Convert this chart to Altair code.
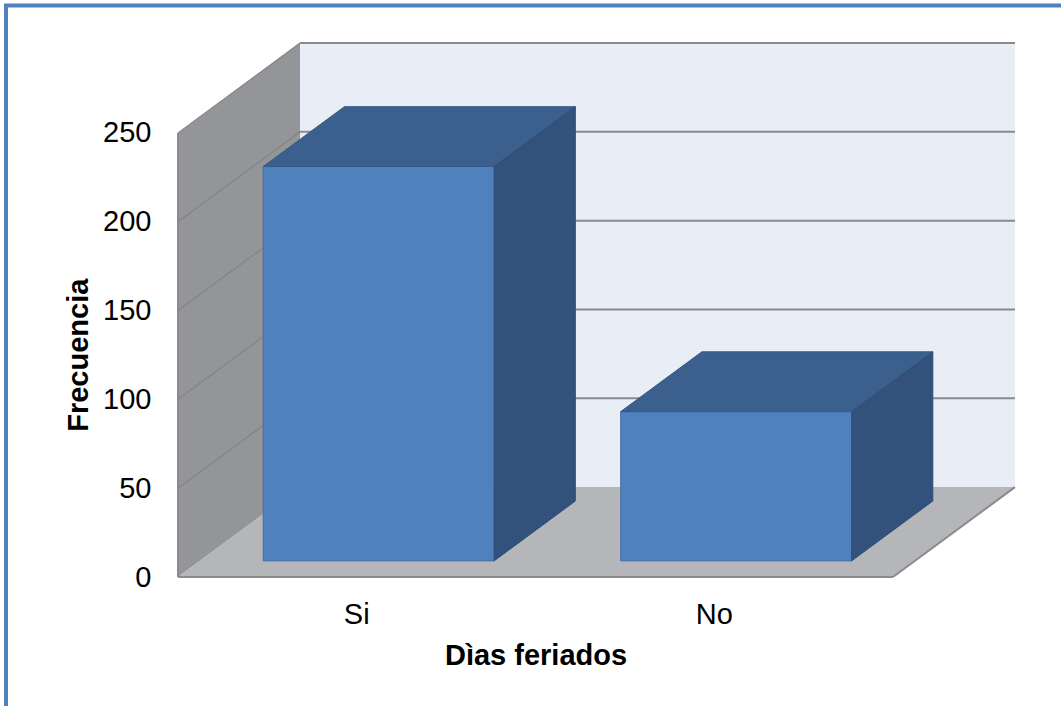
import altair as alt
import pandas as pd

# Data
CATEGORIES = ["Si", "No"]
FRECUENCIA = [222, 84]
Y_TICKS = [0, 50, 100, 150, 200, 250]

# 3-D box geometry (x in category widths, y in value units)
N = len(CATEGORIES)
Y_MAX = 250
DEPTH_X = 0.3413      # oblique shift of the back plane, in category widths
DEPTH_Y = 50.6        # oblique shift of the back plane, in value units
BAR_WIDTH = 0.646
BAR_Z0, BAR_Z1 = 0.18, 0.845   # bar front / back depth (fraction of box depth)

CAT_PX = 357.5
PX_PER_UNIT = 1.778
W = round((N + DEPTH_X) * CAT_PX)
H = round((Y_MAX + DEPTH_Y) * PX_PER_UNIT)
PAD_LEFT, ZERO_Y = 178, 577
PAD_TOP = ZERO_Y - H
PAGE_W, PAGE_H = 1061, 706

FONT = "Liberation Sans"
GRID = "#8b8b8b"

xs = alt.Scale(domain=[0, N + DEPTH_X], nice=False, zero=False)
ys = alt.Scale(domain=[0, Y_MAX + DEPTH_Y], nice=False, zero=False)

# one axis definition per channel, shared by every layer
AXIS_X = alt.Axis(
    labels=False, ticks=False, domain=False, grid=False,
    title="Dìas feriados", titleFont=FONT, titleFontSize=29,
    titleFontWeight="bold", titleColor="black",
    titleX=CAT_PX * N / 2, titleY=87, titleAlign="center",
    titleBaseline="alphabetic",
)
AXIS_Y = alt.Axis(
    values=Y_TICKS, ticks=False, domain=False, grid=False,
    labelFont=FONT, labelFontSize=29, labelColor="black", labelPadding=27,
    title="Frecuencia", titleFont=FONT, titleFontSize=29,
    titleFontWeight="bold", titleColor="black",
    titleX=78 - PAD_LEFT, titleY=H - (Y_MAX / 2) * PX_PER_UNIT,
    titleAngle=-90, titleAlign="center", titleBaseline="middle",
)


def X(f, **kw):
    return alt.X(f, type="quantitative", scale=xs, axis=AXIS_X, **kw)


def Y(f, **kw):
    return alt.Y(f, type="quantitative", scale=ys, axis=AXIS_Y, **kw)


# walls and floor
back_wall = pd.DataFrame({"x": [DEPTH_X], "x2": [N + DEPTH_X],
                          "y": [DEPTH_Y], "y2": [Y_MAX + DEPTH_Y]})
left_wall = pd.DataFrame({"x": [0, DEPTH_X], "y": [0, DEPTH_Y],
                          "y2": [Y_MAX, Y_MAX + DEPTH_Y]})
floor = pd.DataFrame({"y": [0, DEPTH_Y], "x": [0, DEPTH_X],
                      "x2": [N, N + DEPTH_X]})

grid_left_rows, grid_back_rows = [], []
for v in Y_TICKS[1:]:
    grid_left_rows.append({"x": 0, "y": v, "x2": DEPTH_X, "y2": v + DEPTH_Y})
    grid_back_rows.append({"x": DEPTH_X, "y": v + DEPTH_Y,
                           "x2": N + DEPTH_X, "y2": v + DEPTH_Y})

edges = pd.DataFrame([
    {"x": 0, "y": 0, "x2": N, "y2": 0},
    {"x": N, "y": 0, "x2": N + DEPTH_X, "y2": DEPTH_Y},
    {"x": 0, "y": 0, "x2": 0, "y2": Y_MAX},
])

# bar faces
fronts, tops, sides = [], [], []
for i, (cat, val) in enumerate(zip(CATEGORIES, FRECUENCIA)):
    x0 = i + (1 - BAR_WIDTH) / 2
    x1 = x0 + BAR_WIDTH
    fx, bx = BAR_Z0 * DEPTH_X, BAR_Z1 * DEPTH_X
    fy, by = BAR_Z0 * DEPTH_Y, BAR_Z1 * DEPTH_Y
    fronts.append({"bar": cat, "x": x0 + fx, "x2": x1 + fx, "y": fy, "y2": val + fy})
    tops.append({"bar": cat, "y": val + fy, "x": x0 + fx, "x2": x1 + fx})
    tops.append({"bar": cat, "y": val + by, "x": x0 + bx, "x2": x1 + bx})
    sides.append({"bar": cat, "x": x1 + fx, "y": fy, "y2": val + fy})
    sides.append({"bar": cat, "x": x1 + bx, "y": by, "y2": val + by})

labels = pd.DataFrame({"x": [i + 0.5 for i in range(N)], "y": [0] * N,
                       "label": CATEGORIES})

# outer blue frame (top and left edges)
frame_top = alt.Chart(pd.DataFrame({"a": [0]})).mark_rule(
    color="#4f81bd", strokeWidth=4
).encode(x=alt.value(4 - PAD_LEFT), x2=alt.value(PAGE_W - PAD_LEFT),
         y=alt.value(5.5 - PAD_TOP))
frame_left = alt.Chart(pd.DataFrame({"a": [0]})).mark_rule(
    color="#4f81bd", strokeWidth=4
).encode(x=alt.value(6 - PAD_LEFT), y=alt.value(4 - PAD_TOP),
         y2=alt.value(PAGE_H - PAD_TOP))

back = alt.Chart(back_wall).mark_rect(color="#e9edf6").encode(
    x=X("x"), x2="x2:Q", y=Y("y"), y2="y2:Q"
)

left = alt.Chart(left_wall).mark_area(color="#939598").encode(
    x=X("x"), y=Y("y", stack=False), y2="y2:Q"
)

flo = alt.Chart(floor).mark_area(orient="horizontal", color="#b4b6ba").encode(
    y=Y("y"), x=X("x", stack=False), x2="x2:Q"
)

grid_left = alt.Chart(pd.DataFrame(grid_left_rows)).mark_rule(
    color="#828487", strokeWidth=1.2
).encode(x=X("x"), y=Y("y"), x2="x2:Q", y2="y2:Q")

grid_back = alt.Chart(pd.DataFrame(grid_back_rows)).mark_rule(
    color=GRID, strokeWidth=2
).encode(x=X("x"), y=Y("y"), x2="x2:Q", y2="y2:Q")

edge = alt.Chart(edges).mark_rule(color=GRID, strokeWidth=2).encode(
    x=X("x"), y=Y("y"), x2="x2:Q", y2="y2:Q"
)

bar_front = alt.Chart(pd.DataFrame(fronts)).mark_rect(
    color="#4f81bd", stroke="#3e6da6", strokeWidth=1
).encode(x=X("x"), x2="x2:Q", y=Y("y"), y2="y2:Q")

bar_top = alt.Chart(pd.DataFrame(tops)).mark_area(
    orient="horizontal", color="#3b608d", stroke="#365a86", strokeWidth=1
).encode(y=Y("y"), x=X("x", stack=False), x2="x2:Q", detail="bar:N")

bar_side = alt.Chart(pd.DataFrame(sides)).mark_area(
    color="#32527c", stroke="#2f4e76", strokeWidth=1
).encode(x=X("x"), y=Y("y", stack=False), y2="y2:Q", detail="bar:N")

cat_text = alt.Chart(labels).mark_text(
    font=FONT, fontSize=29, color="black", baseline="alphabetic", dy=47
).encode(x=X("x"), y=Y("y"), text="label:N")

chart = alt.layer(
    back, left, flo, grid_left, grid_back, edge,
    bar_front, bar_top, bar_side, cat_text, frame_top, frame_left
).properties(
    width=W, height=H,
    padding={"left": PAD_LEFT, "top": PAD_TOP,
             "right": PAGE_W - PAD_LEFT - W, "bottom": PAGE_H - PAD_TOP - H},
    autosize=alt.AutoSizeParams(type="none"),
    background="white",
).configure_view(stroke=None)

chart.save("out.html", embed_options={"renderer": "svg", "actions": False})
